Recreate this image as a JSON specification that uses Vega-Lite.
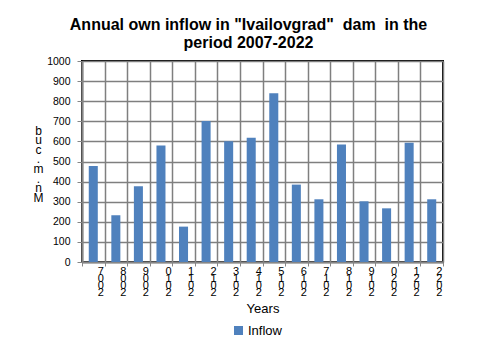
{
  "$schema": "https://vega.github.io/schema/vega-lite/v6.json",
  "width": 361,
  "height": 201,
  "autosize": {"type": "none"},
  "padding": {"left": 82, "top": 61, "right": 43, "bottom": 80},
  "background": "white",
  "title": {
    "text": ["Annual own inflow in \"Ivailovgrad\"\u00a0 dam\u00a0 in the", "period 2007-2022"],
    "fontSize": 16,
    "fontWeight": "bold",
    "lineHeight": 18.3,
    "anchor": "middle",
    "dx": -14,
    "offset": 5,
    "color": "black"
  },
  "data": {
    "values": [
      {"year": "2007", "inflow": 477},
      {"year": "2008", "inflow": 233},
      {"year": "2009", "inflow": 377},
      {"year": "2010", "inflow": 580},
      {"year": "2011", "inflow": 176},
      {"year": "2012", "inflow": 701},
      {"year": "2013", "inflow": 601},
      {"year": "2014", "inflow": 618},
      {"year": "2015", "inflow": 839},
      {"year": "2016", "inflow": 385},
      {"year": "2017", "inflow": 312},
      {"year": "2018", "inflow": 585},
      {"year": "2019", "inflow": 302},
      {"year": "2020", "inflow": 267},
      {"year": "2021", "inflow": 593},
      {"year": "2022", "inflow": 312}
    ]
  },
  "mark": {"type": "bar", "width": {"band": 0.4}},
  "encoding": {
    "x": {
      "field": "year",
      "type": "ordinal",
      "title": "Years",
      "scale": {"paddingInner": 0, "paddingOuter": 0},
      "axis": {
        "tickBand": "extent",
        "labelOffset": 7,
        "labelAngle": 0,
        "labelExpr": "reverse(split(datum.label, ''))",
        "labelLineHeight": 7,
        "labelFontSize": 11,
        "labelBaseline": "top",
        "labelPadding": -1,
        "grid": true,
        "gridColor": "#7f7f7f",
        "gridWidth": 1.5,
        "domainColor": "#868686",
        "domainWidth": 2,
        "tickColor": "#868686",
        "tickSize": 4,
        "titleFontSize": 13,
        "titleFontWeight": "normal",
        "titlePadding": 5
      }
    },
    "y": {
      "field": "inflow",
      "type": "quantitative",
      "title": ["b", "u", "c", ".", "m", ".", "n", "M"],
      "scale": {"domain": [0, 1000]},
      "axis": {
        "values": [0, 100, 200, 300, 400, 500, 600, 700, 800, 900, 1000],
        "format": "d",
        "grid": true,
        "gridColor": "#7f7f7f",
        "gridWidth": 1.5,
        "domainColor": "#868686",
        "domainWidth": 2,
        "tickColor": "#868686",
        "tickSize": 5,
        "labelFontSize": 10.5,
        "labelPadding": 7,
        "titleAngle": 0,
        "titleAlign": "center",
        "titleBaseline": "middle",
        "titleLineHeight": 9.6,
        "titleFontSize": 12,
        "titleFontWeight": "normal",
        "titleX": -44,
        "titleY": 69
      }
    },
    "color": {
      "datum": "Inflow",
      "type": "nominal",
      "scale": {"range": ["#4F81BD"]},
      "legend": {
        "title": null,
        "orient": "none",
        "legendX": 150,
        "legendY": 263,
        "direction": "horizontal",
        "symbolType": "square",
        "symbolSize": 81,
        "symbolStrokeWidth": 0,
        "symbolOffset": 0,
        "labelFontSize": 13,
        "labelOffset": 3
      }
    }
  },
  "config": {
    "font": "Liberation Sans",
    "view": {"stroke": "black", "strokeWidth": 2},
    "axis": {"labelColor": "black", "titleColor": "black"},
    "legend": {"labelColor": "black"}
  }
}
